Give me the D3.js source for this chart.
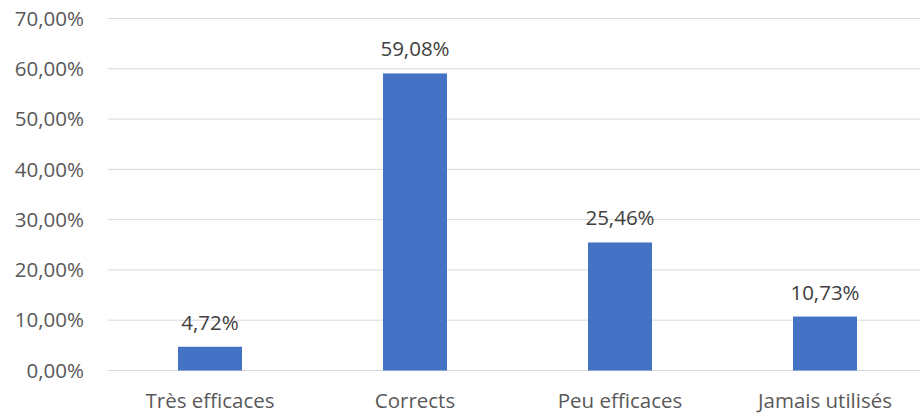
<!DOCTYPE html>
<html><head><meta charset="utf-8">
<script src="https://cdn.jsdelivr.net/npm/d3@7"></script>
<style>body{margin:0;background:#fff}svg{display:block}</style>
</head><body>
<svg id="c" width="920" height="415"></svg>
<script>
const categories = ["Très efficaces", "Corrects", "Peu efficaces", "Jamais utilisés"];
const values = [4.72, 59.08, 25.46, 10.73];
const yTicks = [0, 10, 20, 30, 40, 50, 60, 70];

const svg = d3.select("#c");
const font = "'Open Sans', sans-serif";
const fs = "20.5px";
const x = d3.scaleBand().domain(categories).range([107.5, 927.5]).paddingInner(0.688).paddingOuter(0.344);
const y = d3.scaleLinear().domain([0, 70]).range([370.5, 18.5]);
const fmt = v => v.toFixed(2).replace(".", ",") + "%";

svg.append("g").selectAll("line").data(yTicks).join("line")
  .attr("x1", 108).attr("x2", 920)
  .attr("y1", d => y(d)).attr("y2", d => y(d))
  .attr("stroke", "#d9d9d9").attr("stroke-width", 1);

svg.append("g").selectAll("text").data(yTicks).join("text")
  .attr("x", 84).attr("y", d => y(d)).attr("dy", "0.35em")
  .attr("text-anchor", "end").attr("fill", "#595959")
  .style("font-family", font).style("font-size", fs)
  .text(d => fmt(d));

const bw = 64;
svg.append("g").selectAll("rect").data(values).join("rect")
  .attr("x", (d, i) => x(categories[i]) + x.bandwidth() / 2 - bw / 2)
  .attr("width", bw)
  .attr("y", d => y(d)).attr("height", d => y(0) - y(d))
  .attr("fill", "#4472c4");

svg.append("g").selectAll("text").data(values).join("text")
  .attr("x", (d, i) => x(categories[i]) + x.bandwidth() / 2)
  .attr("y", d => y(d) - 17)
  .attr("text-anchor", "middle").attr("fill", "#404040")
  .style("font-family", font).style("font-size", fs)
  .text(d => fmt(d));

svg.append("g").selectAll("text").data(categories).join("text")
  .attr("x", d => x(d) + x.bandwidth() / 2)
  .attr("y", 408)
  .attr("text-anchor", "middle").attr("fill", "#595959")
  .style("font-family", font).style("font-size", fs)
  .text(d => d);
</script>
</body></html>
